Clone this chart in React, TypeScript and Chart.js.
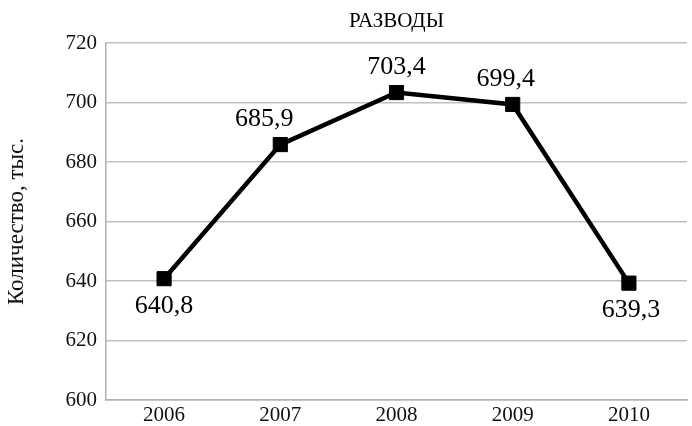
import React, { useEffect, useRef } from "react";
import { Chart, registerables } from "chart.js";

Chart.register(...registerables);

const years = ["2006", "2007", "2008", "2009", "2010"];
const divorces = [640.8, 685.9, 703.4, 699.4, 639.3];
const labelTexts = ["640,8", "685,9", "703,4", "699,4", "639,3"];
const labelPlacement = ["below", "above", "above", "above", "below"];
const labelShiftX = [0, -16, 0, -7, 2];
const yMin = 600;
const yMax = 720;
const yStep = 20;
const chartTitle = "РАЗВОДЫ";
const yTitle = "Количество, тыс.";

const FONT = "'Liberation Serif', 'Times New Roman', serif";

const valueLabels = {
  id: "valueLabels",
  afterDatasetsDraw(chart: any) {
    const meta = chart.getDatasetMeta(0);
    const ctx = chart.ctx;
    ctx.save();
    ctx.font = `26px ${FONT}`;
    ctx.fillStyle = "#000";
    ctx.textAlign = "center";
    ctx.textBaseline = "middle";
    meta.data.forEach((pt: any, i: number) => {
      const dy = labelPlacement[i] === "below" ? 27 : -25;
      ctx.fillText(labelTexts[i], pt.x + labelShiftX[i], pt.y + dy);
    });
    ctx.restore();
  },
};

export default function App() {
  const ref = useRef<HTMLCanvasElement>(null);
  useEffect(() => {
    if (!ref.current) return;
    const chart = new Chart(ref.current, {
      type: "line",
      data: {
        labels: years,
        datasets: [
          {
            data: divorces,
            borderColor: "#000",
            backgroundColor: "#000",
            borderWidth: 4.5,
            pointStyle: "rect",
            pointRadius: 10,
            pointBorderWidth: 1,
            pointBackgroundColor: "#000",
            pointBorderColor: "#000",
            tension: 0,
          },
        ],
      },
      options: {
        responsive: false,
        animation: false,
        layout: { padding: 0 },
        plugins: {
          legend: { display: false },
          tooltip: { enabled: false },
          title: {
            display: true,
            text: chartTitle,
            fullSize: false,
            color: "#000",
            font: { family: FONT, size: 21, weight: "normal" },
            padding: { top: 9, bottom: 9 },
          },
        },
        scales: {
          x: {
            offset: true,
            grid: { display: false, drawTicks: false },
            border: { color: "#b0b0b0", width: 1.5 },
            ticks: {
              color: "#111",
              font: { family: FONT, size: 21 },
              padding: 3,
            },
            afterFit: (s: any) => {
              s.height = 26;
            },
          },
          y: {
            min: yMin,
            max: yMax,
            ticks: {
              stepSize: yStep,
              color: "#111",
              font: { family: FONT, size: 21 },
              padding: 9,
            },
            grid: { color: "#c0c0c0", lineWidth: 1.5, drawTicks: false },
            border: { color: "#b0b0b0", width: 1.5 },
            title: {
              display: true,
              text: yTitle,
              color: "#111",
              font: { family: FONT, size: 23 },
              padding: { top: 3, bottom: 0 },
            },
            afterFit: (s: any) => {
              s.width = 106;
            },
          },
        },
      },
      plugins: [valueLabels],
    });
    return () => chart.destroy();
  }, []);
  return (
    <div
      style={{
        position: "fixed",
        left: 0,
        top: 0,
        width: 692,
        height: 426,
        overflow: "hidden",
        background: "#fff",
      }}
    >
      <canvas ref={ref} width={698} height={426} />
    </div>
  );
}
